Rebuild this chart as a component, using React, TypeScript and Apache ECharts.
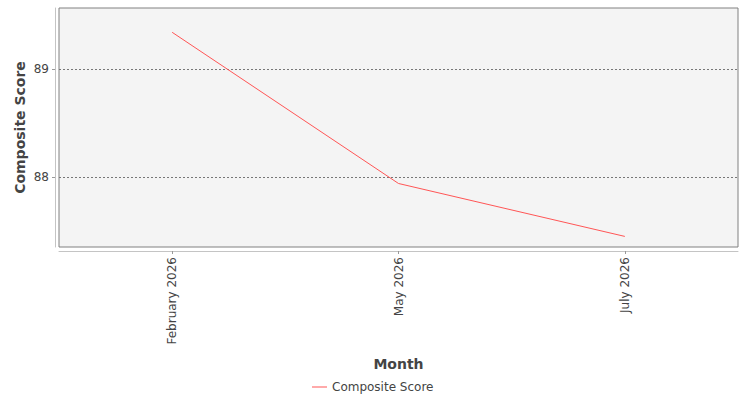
import { useEffect, useRef } from "react";
import * as echarts from "echarts";

const months = ["February 2026", "May 2026", "July 2026"];
const compositeScore = [89.34, 87.94, 87.45];
const yTicks = [88, 89];
const yMin = 87.352;
const yMax = 89.565;

const FONT = "DejaVu Sans";

export default function App() {
  const chartRef = useRef<HTMLDivElement | null>(null);

  useEffect(() => {
    document.body.style.margin = "0";
    if (!chartRef.current) {
      return;
    }
    const chart = echarts.init(chartRef.current, undefined, { renderer: "svg" });

    chart.setOption({
      animation: false,
      textStyle: { fontFamily: FONT },
      grid: {
        left: 59,
        top: 8,
        width: 679,
        height: 239,
        show: true,
        backgroundColor: "#f4f4f4",
        borderColor: "#808080",
        borderWidth: 1
      },
      legend: {
        left: 312,
        top: 381,
        padding: 0,
        icon: "rect",
        itemWidth: 15,
        itemHeight: 1,
        itemGap: 4,
        textStyle: { color: "#444", fontSize: 12, fontFamily: FONT },
        data: ["Composite Score"]
      },
      xAxis: {
        type: "category",
        data: months,
        boundaryGap: true,
        offset: 4,
        axisLine: { show: true, lineStyle: { color: "#c4c4c4", width: 1 } },
        axisTick: { show: true, alignWithLabel: true, length: 3, lineStyle: { color: "#999" } },
        axisLabel: { rotate: 90, margin: 6, fontSize: 12, color: "#444", fontFamily: FONT },
        splitLine: { show: false },
        name: "Month",
        nameLocation: "middle",
        nameGap: 106,
        nameTextStyle: { fontSize: 14, fontWeight: "bold", color: "#444", fontFamily: FONT }
      },
      yAxis: {
        type: "value",
        min: yMin,
        max: yMax,
        offset: 4,
        axisLine: { show: true, lineStyle: { color: "#c4c4c4", width: 1 } },
        axisTick: { show: true, length: 3, customValues: yTicks, lineStyle: { color: "#999" } },
        axisLabel: {
          customValues: yTicks,
          margin: 6,
          fontSize: 12,
          color: "#444",
          fontFamily: FONT
        },
        splitLine: {
          show: true,
          lineStyle: { color: "#777", type: [2, 2], width: 1 }
        },
        name: "Composite Score",
        nameLocation: "middle",
        nameGap: 28,
        nameMoveOverlap: false,
        nameTextStyle: { fontSize: 14, fontWeight: "bold", color: "#444", fontFamily: FONT }
      },
      series: [
        {
          name: "Composite Score",
          type: "line",
          data: compositeScore,
          symbol: "none",
          lineStyle: { color: "#ff5555", width: 1 },
          itemStyle: { color: "#ff5555" }
        }
      ]
    });

    return () => {
      chart.dispose();
    };
  }, []);

  return <div ref={chartRef} style={{ width: 750, height: 400 }} />;
}
